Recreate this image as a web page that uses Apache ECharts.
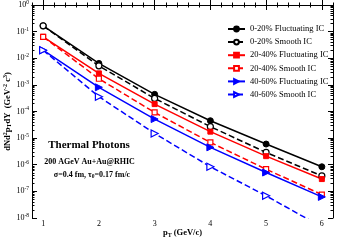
<!DOCTYPE html>
<html><head><meta charset="utf-8">
<script src="https://cdn.jsdelivr.net/npm/echarts@6/dist/echarts.min.js"></script>
<style>html,body{margin:0;padding:0;background:#fff}#c{width:337px;height:240px}</style>
</head><body><div id="c"></div>
<script>
const pT = [1, 2, 3, 4, 5, 6];
const fluct020  = [0.165, 0.0064, 4.4e-4, 4.5e-5, 6.0e-6, 8.4e-7];
const smooth020 = [0.165, 0.0052, 3.1e-4, 2.7e-5, 2.9e-6, 3.8e-7];
const fluct2040  = [0.064, 0.0027, 1.9e-4, 1.75e-5, 2.1e-6, 2.9e-7];
const smooth2040 = [0.064, 0.0017, 9.2e-5, 6.9e-6, 6.8e-7, 7.6e-8];
const fluct4060  = [0.020, 8.1e-4, 5.2e-5, 4.5e-6, 5.1e-7, 6.2e-8];
const smooth4060 = [0.020, 3.6e-4, 1.5e-5, 8.4e-7, 6.8e-8, 4.6e-9];
const names = ['0-20% Fluctuating IC','0-20% Smooth IC','20-40% Fluctuating IC','20-40% Smooth IC','40-60% Fluctuating IC','40-60% Smooth IC'];
const xMajor = [1, 2, 3, 4, 5, 6];

const FONT = 'Liberation Serif';
const pairs = arr => pT.map((x, i) => [x, arr[i]]);
const yMinor = [];
for (let k = -8; k < 0; k++) for (let m = 2; m <= 9; m++) yMinor.push(k + Math.log10(m));

function mk(name, data, color, symbol, filled, dashed) {
  return {
    name, type: 'line', data: pairs(data), xAxisIndex: 0, yAxisIndex: 0,
    symbol, symbolSize: symbol === 'triangle' ? 7 : (symbol === 'rect' ? 5 : 6),
    symbolRotate: symbol === 'triangle' ? -90 : 0,
    showAllSymbol: true, clip: true, smooth: false,
    lineStyle: { color, width: 1.5, type: dashed ? [6, 3] : 'solid' },
    itemStyle: filled ? { color, borderColor: color, borderWidth: 1 } : { color: '#fff', borderColor: color, borderWidth: 1.2 },
    emphasis: { disabled: true }, animation: false
  };
}

const chart = echarts.init(document.getElementById('c'), null, { renderer: 'canvas' });
const axLine = { show: true, lineStyle: { color: '#000', width: 1 } };
const majTick = { show: true, inside: true, length: 5, lineStyle: { color: '#000', width: 1 } };
const minTick = { show: true, inside: true, length: 2.5, lineStyle: { color: '#000', width: 1 } };
const xBase = { type: 'value', min: 0.8, max: 6.2, splitLine: { show: false } };
const yLogBase = { type: 'log', logBase: 10, min: 1e-8, max: 1, interval: 1, splitLine: { show: false }, minorTick: { show: false } };
const yValBase = { type: 'value', min: -8, max: 0, splitLine: { show: false } };

chart.setOption({
  animation: false,
  backgroundColor: '#fff',
  grid: { left: 32, right: 4, top: 5, bottom: 22, containLabel: false, outerBoundsMode: 'none' },
  legend: {
    orient: 'vertical', left: 222, top: 19, itemWidth: 17, itemHeight: 6, itemGap: 3.1,
    textStyle: { fontFamily: FONT, fontSize: 8.5, color: '#000', lineHeight: 10 },
    data: names, selectedMode: false
  },
  xAxis: [
    Object.assign({}, xBase, { position: 'bottom', axisLine: axLine, axisTick: Object.assign({ customValues: xMajor }, majTick),
      axisLabel: { customValues: xMajor, fontFamily: FONT, fontSize: 8, color: '#000', margin: 2 },
      name: 'p{sub|T} (GeV/c)', nameLocation: 'middle', nameGap: 10, nameMoveOverlap: false,
      nameTextStyle: { fontFamily: FONT, fontSize: 8.5, color: '#000', fontWeight: 'bold', verticalAlign: 'top',
        rich: { sub: { fontFamily: FONT, fontSize: 6, fontWeight: 'bold', padding: [4, 0, 0, 0] } } } }),
    Object.assign({}, xBase, { position: 'bottom', interval: 0.2, axisLine: { show: false }, axisTick: minTick, axisLabel: { show: false } }),
    Object.assign({}, xBase, { position: 'top', axisLine: axLine, axisTick: Object.assign({ customValues: xMajor }, majTick), axisLabel: { show: false } }),
    Object.assign({}, xBase, { position: 'top', interval: 0.2, axisLine: { show: false }, axisTick: minTick, axisLabel: { show: false } })
  ],
  yAxis: [
    Object.assign({}, yLogBase, { position: 'left', axisLine: axLine, axisTick: majTick,
      axisLabel: { margin: 3, color: '#000', fontFamily: FONT, fontSize: 8,
        formatter: v => '{b|10}{s|' + Math.round(Math.log10(v)) + '}',
        rich: { b: { fontFamily: FONT, fontSize: 8, color: '#000' }, s: { fontFamily: FONT, fontSize: 5.5, color: '#000', padding: [0, 0, 5, 0] } } },
      name: 'dNd{sup|2}p{sub|T}dY  (GeV{sup|-2} c{sup|3})', nameLocation: 'middle', nameGap: 19, nameRotate: 90, nameMoveOverlap: false,
      nameTextStyle: { fontFamily: FONT, fontSize: 8.5, color: '#000', fontWeight: 'bold',
        rich: { sup: { fontFamily: FONT, fontSize: 6, fontWeight: 'bold', padding: [0, 0, 5, 0] },
                sub: { fontFamily: FONT, fontSize: 6, fontWeight: 'bold', padding: [4, 0, 0, 0] } } } }),
    Object.assign({}, yValBase, { position: 'left', axisLine: { show: false }, axisTick: Object.assign({ customValues: yMinor }, minTick), axisLabel: { show: false } }),
    Object.assign({}, yLogBase, { position: 'right', axisLine: axLine, axisTick: majTick, axisLabel: { show: false } }),
    Object.assign({}, yValBase, { position: 'right', axisLine: { show: false }, axisTick: Object.assign({ customValues: yMinor }, minTick), axisLabel: { show: false } })
  ],
  graphic: [
    { type: 'text', x: 89, y: 145, style: { text: 'Thermal Photons', font: 'bold 11px "Liberation Serif"', fill: '#000', align: 'center', verticalAlign: 'middle' } },
    { type: 'text', x: 89.5, y: 162, style: { text: '200 AGeV Au+Au@RHIC', font: 'bold 8px "Liberation Serif"', fill: '#000', align: 'center', verticalAlign: 'middle' } },
    { type: 'text', x: 92, y: 175, style: { text: '{m|σ=0.4 fm, τ}{s|0}{m|=0.17 fm/c}', align: 'center', verticalAlign: 'middle', fill: '#000',
        rich: { m: { fontFamily: FONT, fontSize: 8, fontWeight: 'bold' }, s: { fontFamily: FONT, fontSize: 5.5, fontWeight: 'bold', padding: [4, 0, 0, 0] } } } }
  ],
  series: [
    mk(names[0], fluct020, '#000', 'circle', true, false),
    mk(names[1], smooth020, '#000', 'circle', false, true),
    mk(names[2], fluct2040, '#ff0000', 'rect', true, false),
    mk(names[3], smooth2040, '#ff0000', 'rect', false, true),
    mk(names[4], fluct4060, '#0000ff', 'triangle', true, false),
    mk(names[5], smooth4060, '#0000ff', 'triangle', false, true)
  ]
});
</script></body></html>
